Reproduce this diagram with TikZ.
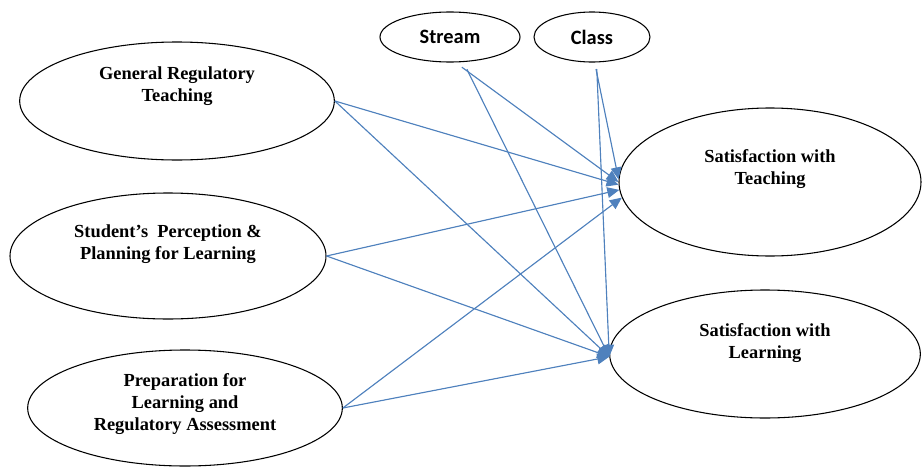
\documentclass[tikz,border=0pt]{standalone}
\usepackage{fontspec}
\setmainfont{Liberation Serif}
\newfontfamily\calibri{Carlito}
\usetikzlibrary{shapes.geometric, arrows.meta}
\definecolor{linkblue}{HTML}{4F81BD}

\begin{document}
\begin{tikzpicture}[
  x=0.75pt, y=-0.75pt,
  construct/.style={ellipse, draw=black, line width=0.8pt, inner sep=0pt},
  txt/.style={font=\fontsize{13.8}{16.5}\selectfont\bfseries, align=center},
  ctrl/.style={construct, font=\calibri\fontsize{15.3}{18}\selectfont\bfseries},
  arr/.style={-{Triangle[length=9pt,width=8pt]}, draw=linkblue, fill=linkblue, line width=0.85pt}
]
  \useasboundingbox (0,0) rectangle (922,468);
  % predictors
  \node[construct, minimum width=236pt, minimum height=88.5pt,
        label={[txt, yshift=11pt]center:General Regulatory\\Teaching}] (grt) at (177,101) {};
  \node[construct, minimum width=237pt, minimum height=94.5pt,
        label={[txt, yshift=9pt]center:Student’s~ Perception \&\\Planning for Learning}] (spp) at (168,256) {};
  \node[construct, minimum width=236pt, minimum height=87pt,
        label={[txt, yshift=3pt]center:Preparation for\\Learning and\\Regulatory Assessment}] (prep) at (185,408) {};
  % controls
  \node[ctrl, minimum width=105pt, minimum height=37.5pt] (str) at (450,37) {Stream};
  \node[ctrl, minimum width=87pt, minimum height=37.5pt] (cls) at (592,37) {Class};
  % outcomes
  \node[construct, minimum width=226.5pt, minimum height=111pt,
        label={[txt, yshift=9.5pt]center:Satisfaction with\\Teaching}] (tch) at (770,182) {};
  \node[construct, minimum width=233pt, minimum height=96pt,
        label={[txt, yshift=8.5pt]center:Satisfaction with\\Learning}] (lrn) at (765,354) {};
  % paths
  \draw[arr] (grt.east) -- (tch.181);
  \draw[arr] (grt.east) -- (lrn.181);
  \draw[arr] (spp.east) -- (tch.183);
  \draw[arr] (spp.east) -- (lrn.181);
  \draw[arr] (prep.east) -- (tch.186);
  \draw[arr] (prep.east) -- (lrn.181);
  \draw[arr, shorten <=6pt] (str.-78) -- (tch.180);
  \draw[arr, shorten <=6pt] (str.-62) -- (lrn.181);
  \draw[arr, shorten <=5pt] (cls.-84) -- (tch.179);
  \draw[arr, shorten <=5pt] (cls.-80) -- (lrn.181);
\end{tikzpicture}
\end{document}
